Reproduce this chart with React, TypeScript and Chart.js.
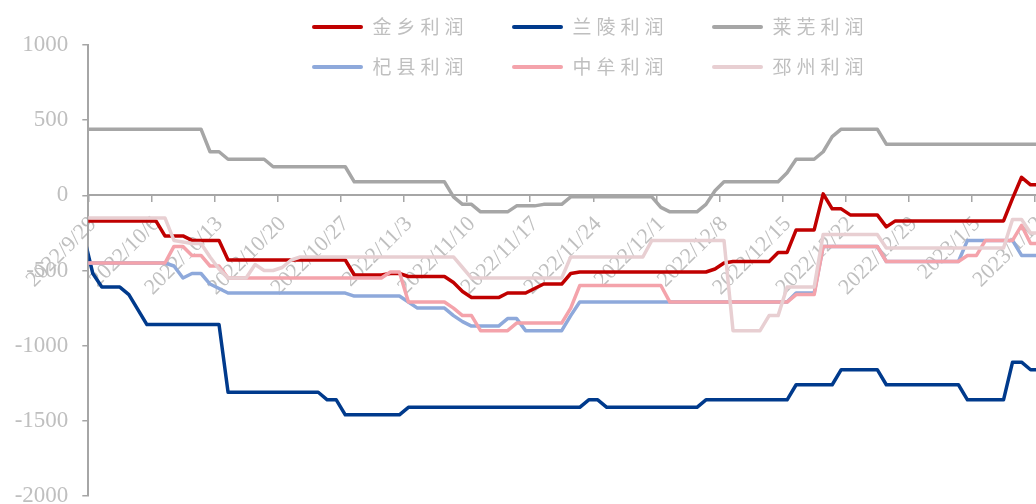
import React, { useEffect, useRef } from 'react';
import { Chart, registerables } from 'chart.js';

Chart.register(...registerables);

// ---------- data ----------
// weekly tick labels (x axis)
const TICK_LABELS = [
  '2022/9/29', '2022/10/6', '2022/10/13', '2022/10/20', '2022/10/27', '2022/11/3',
  '2022/11/10', '2022/11/17', '2022/11/24', '2022/12/1', '2022/12/8', '2022/12/15',
  '2022/12/22', '2022/12/29', '2023/1/5', '2023/1/12',
];
const FIRST_DATE = '2022/9/28'; // first value of every series (just left of the axis), then daily
const SERIES_NAMES = ['金乡利润', '兰陵利润', '莱芜利润', '杞县利润', '中牟利润', '邳州利润'];

const JINXIANG = [
  -170, -170, -170, -170, -170, -170, -170, -170, -170, -270,
  -270, -270, -300, -300, -300, -300, -430, -430, -430, -430,
  -430, -430, -430, -430, -430, -430, -430, -430, -430, -430,
  -530, -530, -530, -530, -520, -520, -540, -540, -540, -540,
  -540, -580, -640, -680, -680, -680, -680, -650, -650, -650,
  -620, -590, -590, -590, -520, -510, -510, -510, -510, -510,
  -510, -510, -510, -510, -510, -510, -510, -510, -510, -510,
  -490, -450, -440, -440, -440, -440, -440, -380, -380, -230,
  -230, -230, 10, -90, -90, -130, -130, -130, -130, -210,
  -170, -170, -170, -170, -170, -170, -170, -170, -170, -170,
  -170, -170, -170, -20, 120, 70, 70,
];
const LANLING = [
  -270, -520, -610, -610, -610, -660, -760, -860, -860, -860,
  -860, -860, -860, -860, -860, -860, -1310, -1310, -1310, -1310,
  -1310, -1310, -1310, -1310, -1310, -1310, -1310, -1360, -1360, -1460,
  -1460, -1460, -1460, -1460, -1460, -1460, -1410, -1410, -1410, -1410,
  -1410, -1410, -1410, -1410, -1410, -1410, -1410, -1410, -1410, -1410,
  -1410, -1410, -1410, -1410, -1410, -1410, -1360, -1360, -1410, -1410,
  -1410, -1410, -1410, -1410, -1410, -1410, -1410, -1410, -1410, -1360,
  -1360, -1360, -1360, -1360, -1360, -1360, -1360, -1360, -1360, -1260,
  -1260, -1260, -1260, -1260, -1160, -1160, -1160, -1160, -1160, -1260,
  -1260, -1260, -1260, -1260, -1260, -1260, -1260, -1260, -1360, -1360,
  -1360, -1360, -1360, -1110, -1110, -1160, -1160,
];
const LAIWU = [
  440, 440, 440, 440, 440, 440, 440, 440, 440, 440,
  440, 440, 440, 440, 290, 290, 240, 240, 240, 240,
  240, 190, 190, 190, 190, 190, 190, 190, 190, 190,
  90, 90, 90, 90, 90, 90, 90, 90, 90, 90,
  90, -10, -60, -60, -110, -110, -110, -110, -70, -70,
  -70, -60, -60, -60, -10, -10, -10, -10, -10, -10,
  -10, -10, -10, -10, -80, -110, -110, -110, -110, -60,
  30, 90, 90, 90, 90, 90, 90, 90, 150, 240,
  240, 240, 290, 390, 440, 440, 440, 440, 440, 340,
  340, 340, 340, 340, 340, 340, 340, 340, 340, 340,
  340, 340, 340, 340, 340, 340, 340,
];
const QIXIAN = [
  -450, -450, -450, -450, -450, -450, -450, -450, -450, -450,
  -470, -550, -520, -520, -590, -620, -650, -650, -650, -650,
  -650, -650, -650, -650, -650, -650, -650, -650, -650, -650,
  -670, -670, -670, -670, -670, -670, -710, -750, -750, -750,
  -750, -800, -840, -870, -870, -870, -870, -820, -820, -900,
  -900, -900, -900, -900, -800, -710, -710, -710, -710, -710,
  -710, -710, -710, -710, -710, -710, -710, -710, -710, -710,
  -710, -710, -710, -710, -710, -710, -710, -710, -710, -650,
  -650, -650, -340, -340, -340, -340, -340, -340, -340, -440,
  -440, -440, -440, -440, -440, -440, -440, -440, -300, -300,
  -300, -300, -300, -300, -400, -400, -400,
];
const ZHONGMOU = [
  -450, -450, -450, -450, -450, -450, -450, -450, -450, -450,
  -340, -340, -400, -400, -470, -470, -550, -550, -550, -550,
  -550, -550, -550, -550, -550, -550, -550, -550, -550, -550,
  -550, -550, -550, -550, -510, -510, -710, -710, -710, -710,
  -710, -750, -800, -800, -900, -900, -900, -900, -850, -850,
  -850, -850, -850, -850, -750, -600, -600, -600, -600, -600,
  -600, -600, -600, -600, -600, -710, -710, -710, -710, -710,
  -710, -710, -710, -710, -710, -710, -710, -710, -710, -660,
  -660, -660, -340, -340, -340, -340, -340, -340, -340, -440,
  -440, -440, -440, -440, -440, -440, -440, -440, -400, -400,
  -300, -300, -300, -300, -200, -320, -320,
];
const PIZHOU = [
  -150, -150, -150, -150, -150, -150, -150, -150, -150, -150,
  -300, -310, -320, -320, -410, -490, -550, -550, -550, -460,
  -500, -500, -480, -430, -410, -410, -410, -410, -410, -410,
  -410, -410, -410, -410, -410, -410, -410, -410, -410, -410,
  -410, -410, -480, -550, -550, -550, -550, -550, -550, -550,
  -550, -550, -550, -550, -410, -410, -410, -410, -410, -410,
  -410, -410, -410, -300, -300, -300, -300, -300, -300, -300,
  -300, -300, -900, -900, -900, -900, -800, -800, -610, -610,
  -610, -610, -260, -260, -260, -260, -260, -260, -260, -350,
  -350, -350, -350, -350, -350, -350, -350, -350, -350, -350,
  -350, -350, -350, -160, -160, -250, -250,
];
const SERIES = [JINXIANG, LANLING, LAIWU, QIXIAN, ZHONGMOU, PIZHOU];

const Y_MIN = -2000;
const Y_MAX = 1000;
const Y_STEP = 500;
const DAYS_PER_TICK = 7;
const X_MAX = 106; // axis spans from 2022/9/29 to 2023/1/13 (day slots)

// ---------- style / layout ----------
const COLORS = ['#C00000', '#003A8C', '#A6A6A6', '#8EA9DB', '#F4A3AB', '#E8CFD2'];
const AXIS_COLOR = '#A6A6A6';
const TEXT_COLOR = '#BFBFBF';
const SERIF = "'Times New Roman', 'Liberation Serif', serif";
const CJK = "'Noto Sans CJK SC', 'Noto Sans', sans-serif";

const CANVAS_W = 1100;
const CANVAS_H = 540;
const PLOT_LEFT = 88.3;
const PLOT_RIGHT = 1044.1;
const PLOT_TOP = 45;
const PLOT_BOTTOM = 496;
const Y_AXIS_W = 80.3;

const LEGEND_FONT = 19;
const LEGEND_BOX_W = 51;
const LEGEND_PAD = 43.5;
const LEGEND_PER_ROW = 3;
const LEGEND_FIRST_X = 312;
const LEGEND_ROW_CENTERS = [27, 67];

const legendRows = {
  id: 'legendRows',
  afterInit(chart: any) {
    const lg = chart.legend;
    if (!lg || lg.__rowsPatched) return;
    lg.__rowsPatched = true;
    const fit = lg.fit;
    lg.fit = function () {
      fit.call(this);
      this.height = PLOT_TOP; // legend overlaps the plot, like the reference
    };
    const draw = lg.draw;
    lg.draw = function (area: any) {
      const items = this.legendItems || [];
      const saved = {
        left: this.left, right: this.right, top: this.top, bottom: this.bottom,
        width: this.width, height: this.height,
      };
      const ctx = this.ctx;
      ctx.save();
      ctx.letterSpacing = '5px';
      for (let r = 0; r * LEGEND_PER_ROW < items.length; r++) {
        this.legendItems = items.slice(r * LEGEND_PER_ROW, (r + 1) * LEGEND_PER_ROW);
        this.left = LEGEND_FIRST_X - LEGEND_PAD;
        this.right = CANVAS_W;
        this.width = this.right - this.left;
        this.top = LEGEND_ROW_CENTERS[r] - LEGEND_PAD - LEGEND_FONT / 2;
        this.bottom = this.top + LEGEND_PAD * 2 + LEGEND_FONT;
        this.height = this.bottom - this.top;
        draw.call(this, area);
      }
      ctx.restore();
      this.legendItems = items;
      Object.assign(this, saved);
    };
  },
};

export default function App() {
  const ref = useRef<HTMLCanvasElement>(null);

  useEffect(() => {
    const canvas = ref.current;
    if (!canvas) return;

    const datasets = SERIES.map((vals, k) => ({
      label: SERIES_NAMES[k],
      // point i sits in the middle of its day slot; i = 0 is FIRST_DATE
      data: vals.map((y, i) => ({ x: i - 0.5, y })),
      borderColor: COLORS[k],
      backgroundColor: COLORS[k],
      borderWidth: 3.5,
      pointRadius: 0,
      tension: 0,
      borderJoinStyle: 'round' as const,
      order: SERIES.length - k,
      clip: { left: 0, top: 6, right: 0, bottom: 6 },
    }));

    const chart = new Chart(canvas, {
      type: 'line',
      data: { datasets },
      options: {
        responsive: false,
        animation: false,
        devicePixelRatio: 1,
        events: [],
        layout: {
          padding: {
            left: PLOT_LEFT - Y_AXIS_W,
            right: CANVAS_W - PLOT_RIGHT,
            top: 0,
            bottom: CANVAS_H - PLOT_BOTTOM,
          },
        },
        plugins: {
          tooltip: { enabled: false },
          title: { display: false },
          legend: {
            display: true,
            position: 'top',
            align: 'start',
            labels: {
              boxWidth: LEGEND_BOX_W,
              boxHeight: 4,
              padding: LEGEND_PAD,
              color: TEXT_COLOR,
              font: { family: CJK, size: LEGEND_FONT },
              generateLabels: (c: any) =>
                c.data.datasets.map((ds: any, i: number) => ({
                  text: ds.label,
                  fillStyle: ds.borderColor,
                  strokeStyle: ds.borderColor,
                  lineWidth: 0,
                  hidden: false,
                  datasetIndex: i,
                  fontColor: TEXT_COLOR,
                  borderRadius: 2,
                })),
            },
          },
        },
        scales: {
          x: {
            type: 'linear',
            min: 0,
            max: X_MAX,
            position: { y: 0 } as any,
            afterBuildTicks: (scale: any) => {
              scale.ticks = TICK_LABELS.map((_, k) => ({ value: k * DAYS_PER_TICK }));
            },
            ticks: {
              autoSkip: false,
              minRotation: 45,
              maxRotation: 45,
              padding: 10,
              labelOffset: 5,
              color: TEXT_COLOR,
              font: { family: SERIF, size: 22 },
              callback: (v: any) => TICK_LABELS[Math.round(Number(v) / DAYS_PER_TICK)] ?? '',
            },
            grid: {
              drawOnChartArea: false,
              drawTicks: true,
              tickLength: 6,
              color: AXIS_COLOR,
              lineWidth: 1.5,
            },
            border: { display: true, color: AXIS_COLOR, width: 2 },
          },
          y: {
            type: 'linear',
            position: 'left',
            min: Y_MIN,
            max: Y_MAX,
            afterFit: (scale: any) => {
              scale.width = Y_AXIS_W;
            },
            ticks: {
              stepSize: Y_STEP,
              padding: 14,
              color: TEXT_COLOR,
              font: { family: SERIF, size: 23 },
              callback: (v: any) => String(v),
            },
            grid: {
              drawOnChartArea: false,
              drawTicks: true,
              tickLength: 6,
              color: AXIS_COLOR,
              lineWidth: 1.5,
            },
            border: { display: true, color: AXIS_COLOR, width: 2 },
          },
        },
      },
      plugins: [legendRows],
    } as any);

    return () => chart.destroy();
  }, []);

  return (
    <div
      style={{
        position: 'fixed',
        left: 0,
        top: 0,
        width: 1036,
        height: 504,
        overflow: 'hidden',
        background: '#ffffff',
      }}
      data-first-date={FIRST_DATE}
    >
      <canvas
        ref={ref}
        width={CANVAS_W}
        height={CANVAS_H}
        style={{ display: 'block', width: CANVAS_W, height: CANVAS_H }}
      />
    </div>
  );
}
